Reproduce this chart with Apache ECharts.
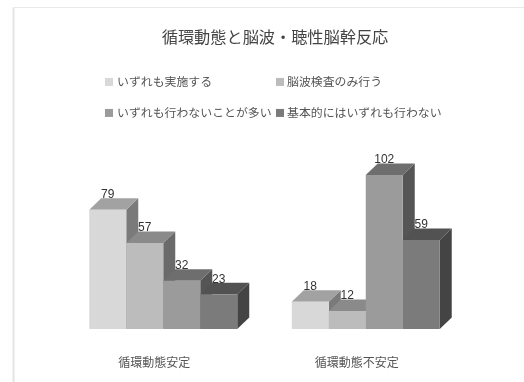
<!DOCTYPE html>
<html>
<head>
<meta charset="utf-8">
<style>
html, body { margin: 0; padding: 0; background: #fff; }
#chart { width: 524px; height: 382px; }
</style>
<script src="https://cdn.jsdelivr.net/npm/echarts@6/dist/echarts.min.js"></script>
</head>
<body>
<div id="chart"></div>
<script>
const titleText = '循環動態と脳波・聴性脳幹反応';
const categories = ['循環動態安定', '循環動態不安定'];
const seriesNames = ['いずれも実施する', '脳波検査のみ行う', 'いずれも行わないことが多い', '基本的にはいずれも行わない'];
const bothTests = [79, 18];
const eegOnly = [57, 12];
const neitherOften = [32, 102];
const neitherBasic = [23, 59];
const seriesValues = [bothTests, eegOnly, neitherOften, neitherBasic];

// Face shades per series: front, top, side
const frontColors = ['#d8d8d8', '#bcbcbc', '#9b9b9b', '#7b7b7b'];
const topColors = ['#a2a2a2', '#8a8a8a', '#6e6e6e', '#525252'];
const sideColors = ['#7a7a7a', '#6a6a6a', '#555555', '#444444'];
const FONT = '"Noto Sans CJK JP", sans-serif';

const BAR_W = 37;
const DEPTH_X = 12;
const DEPTH_Y = 11.5;

// One extruded column: side, top and front faces in back-to-front order
function columnRenderer(seriesIndex) {
  return function (params, api) {
    const cat = api.value(0);
    const val = api.value(1);
    const base = api.coord([cat, 0]);
    const top = api.coord([cat, val]);
    const x0 = base[0] - BAR_W * 2 + seriesIndex * BAR_W;
    const x1 = x0 + BAR_W;
    const yT = top[1];
    const yB = base[1];
    const poly = (points, fill) => ({
      type: 'polygon',
      shape: { points },
      style: { fill }
    });
    return {
      type: 'group',
      children: [
        poly([[x1, yB], [x1 + DEPTH_X, yB - DEPTH_Y], [x1 + DEPTH_X, yT - DEPTH_Y], [x1, yT]], sideColors[seriesIndex]),
        poly([[x0, yT], [x0 + DEPTH_X, yT - DEPTH_Y], [x1 + DEPTH_X, yT - DEPTH_Y], [x1, yT]], topColors[seriesIndex]),
        poly([[x0, yB], [x1, yB], [x1, yT], [x0, yT]], frontColors[seriesIndex]),
        {
          type: 'text',
          z2: 10,
          style: {
            text: String(val),
            x: (x0 + x1) / 2,
            y: yT - 15,
            align: 'center',
            verticalAlign: 'middle',
            fill: '#333',
            font: '12px "Liberation Sans", sans-serif'
          }
        }
      ]
    };
  };
}

const legendSlots = [
  { left: 105, top: 76 },
  { left: 276, top: 76 },
  { left: 105, top: 107 },
  { left: 276, top: 107 }
];

const chart = echarts.init(document.getElementById('chart'), null, { renderer: 'canvas' });
chart.setOption({
  animation: false,
  backgroundColor: '#ffffff',
  title: {
    text: titleText,
    left: 270,
    top: 24,
    textAlign: 'center',
    textStyle: { fontFamily: FONT, fontSize: 16.2, fontWeight: 'normal', color: '#444' }
  },
  legend: seriesNames.map((name, i) => ({
    data: [name],
    left: legendSlots[i].left,
    top: legendSlots[i].top,
    itemWidth: 8,
    itemHeight: 8,
    itemGap: 0,
    padding: 0,
    icon: 'rect',
    selectedMode: false,
    textStyle: { fontFamily: FONT, fontSize: 11.9, color: '#555', padding: [0, 0, 0, i % 2 === 0 ? -1 : -2] }
  })),
  grid: { left: 62, right: 57, top: 102.5, bottom: 53 },
  xAxis: {
    type: 'category',
    data: categories,
    axisLine: { show: false },
    axisTick: { show: false },
    axisLabel: {
      margin: 27,
      padding: [0, 18, 0, 0],
      fontFamily: FONT,
      fontSize: 12,
      color: '#555'
    }
  },
  yAxis: {
    type: 'value',
    min: 0,
    max: 150,
    show: false,
    splitLine: { show: false }
  },
  series: seriesNames.map((name, i) => ({
    name,
    type: 'custom',
    itemStyle: { color: frontColors[i] },
    renderItem: columnRenderer(i),
    encode: { x: 0, y: 1 },
    data: categories.map((c, k) => [k, seriesValues[i][k]])
  })),
  // Thin chart-area frame along the top and left
  graphic: [
    { type: 'line', shape: { x1: 13.5, y1: 7.5, x2: 524, y2: 7.5 }, style: { stroke: '#e9e9e9', lineWidth: 1 } },
    { type: 'line', shape: { x1: 13.5, y1: 7.5, x2: 13.5, y2: 382 }, style: { stroke: '#e4e4e4', lineWidth: 2 } }
  ]
});
</script>
</body>
</html>
